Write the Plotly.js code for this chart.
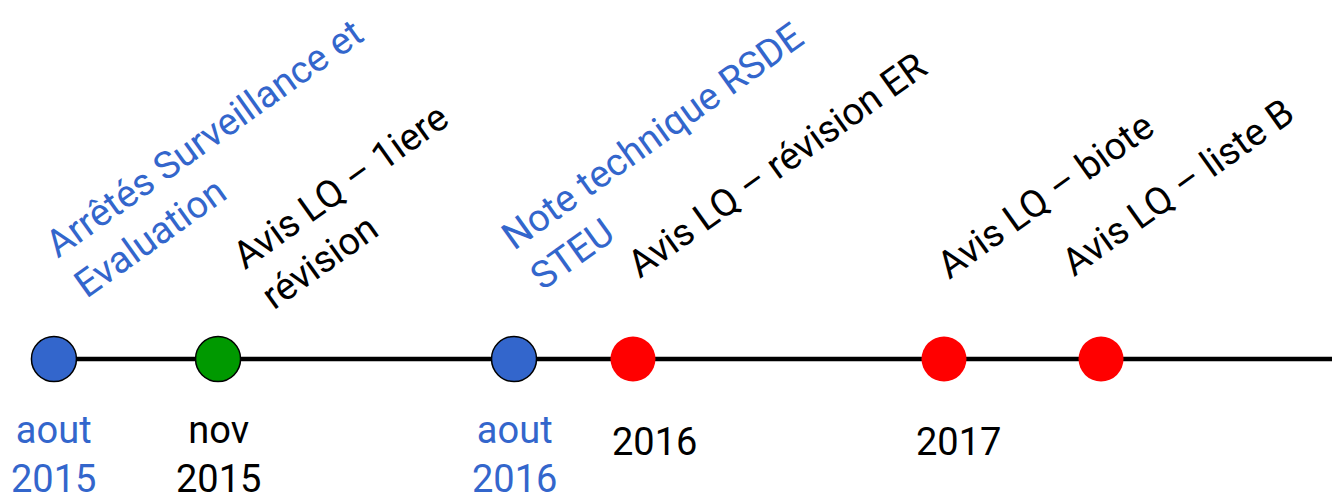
<!DOCTYPE html>
<html><head><meta charset="utf-8">
<script src="https://cdn.plot.ly/plotly-3.0.1.min.js"></script>
<style>html,body{margin:0;padding:0;background:#fff}#chart{width:1332px;height:496px}</style>
</head><body><div id="chart"></div>
<script>
// ---- data ----
const eventPos = [4.05, 16.37, 38.59, 47.52, 70.87, 82.66];   // schematic timeline position (0-100)
const eventKind = ['texte', 'avis1', 'texte', 'avis', 'avis', 'avis'];
const eventTitles = [
  'Arrêtés Surveillance et<br>Evaluation',
  'Avis LQ – 1iere<br>révision',
  'Note technique RSDE<br>STEU',
  'Avis LQ – révision ER',
  'Avis LQ – biote',
  'Avis LQ – liste B'
];
const dateLabels = ['aout<br>2015', 'nov<br>2015', 'aout<br>2016', '2016', '2017', ''];
const timelineStart = eventPos[0];
const timelineEnd = 100;

// ---- styles ----
const kindFill = {texte: '#3366CC', avis1: '#009900', avis: '#FF0000'};
const kindOutline = {texte: 1.5, avis1: 1.5, avis: 0};
const kindText = {texte: '#3366CC', avis1: '#000000', avis: '#000000'};
const FONT = 'Roboto, "Open Sans", sans-serif';
const FS = 38;
const titleShift = [[164, 201], [136, 153], [152, 203], [144, 194], [102, 164], [77, 172]];
const dateShift = [[0, -95], [0, -95], [0, -95], [22, -83], [15, -83], [0, 0]];

const traces = [
  {x: [timelineStart, timelineEnd], y: [0, 0], mode: 'lines',
   line: {color: '#000', width: 4.5}, hoverinfo: 'skip', cliponaxis: false},
  {x: eventPos, y: eventPos.map(() => 0), mode: 'markers', cliponaxis: false,
   marker: {size: 45, color: eventKind.map(k => kindFill[k]),
            line: {color: '#000', width: eventKind.map(k => kindOutline[k])}}}
];

const annotations = [];
eventPos.forEach((p, i) => {
  annotations.push({x: p, y: 0, xref: 'x', yref: 'y', text: eventTitles[i], showarrow: false,
    textangle: -35.5, align: 'left', xanchor: 'center', yanchor: 'middle',
    xshift: titleShift[i][0], yshift: titleShift[i][1],
    font: {family: FONT, size: FS, color: kindText[eventKind[i]]}});
  if (dateLabels[i]) annotations.push({x: p, y: 0, xref: 'x', yref: 'y', text: dateLabels[i], showarrow: false,
    align: 'center', xanchor: 'center', yanchor: 'middle',
    xshift: dateShift[i][0], yshift: dateShift[i][1],
    font: {family: FONT, size: FS, color: kindText[eventKind[i]]}});
});

const layout = {
  width: 1332, height: 496, margin: {l: 0, r: 0, t: 0, b: 0},
  paper_bgcolor: '#fff', plot_bgcolor: '#fff', showlegend: false,
  xaxis: {range: [0, 100], visible: false, fixedrange: true},
  yaxis: {range: [-137, 359], visible: false, fixedrange: true},
  annotations: annotations
};
Plotly.newPlot('chart', traces, layout, {staticPlot: true, displayModeBar: false});
</script>
</body></html>
